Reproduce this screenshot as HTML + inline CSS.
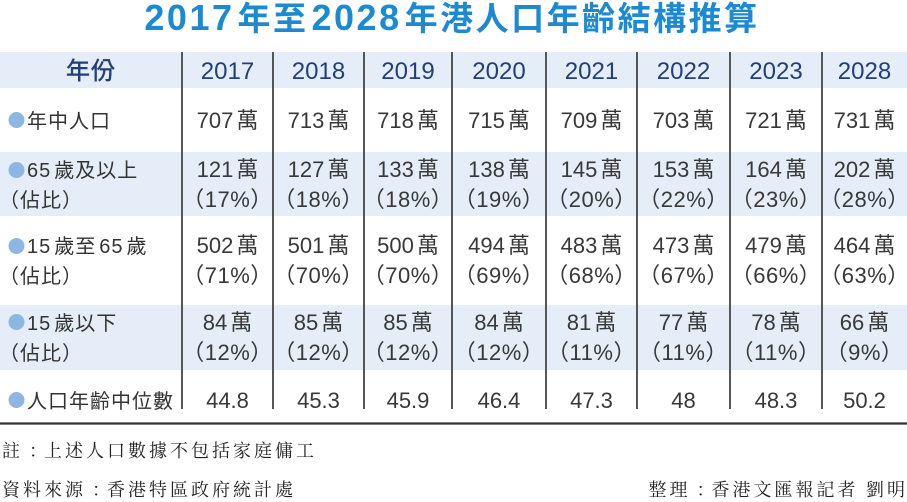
<!DOCTYPE html>
<html>
<head>
<meta charset="utf-8">
<style>
  html,body{margin:0;padding:0;background:#fff;}
  svg{display:block;}
  .sans{font-family:"Liberation Sans","Noto Sans CJK JP",sans-serif;}
  .serif{font-family:"Liberation Serif","Noto Serif CJK SC",serif;}
  .pct{letter-spacing:0.5px;}
</style>
</head>
<body>
<svg width="907" height="502" viewBox="0 0 907 502" xmlns="http://www.w3.org/2000/svg">
  <rect x="0" y="0" width="907" height="502" fill="#ffffff"/>

  <!-- Title -->
  <text class="sans" x="452" y="30" text-anchor="middle" fill="#1c8ad2" font-weight="bold" style="letter-spacing:2.5px"><tspan font-size="36">2017</tspan><tspan font-size="33" dx="3">年至</tspan><tspan font-size="36" dx="3">2028</tspan><tspan font-size="33" dx="3">年港人口年齡結構推算</tspan></text>

  <!-- bands -->
  <rect x="0" y="52" width="907" height="36" fill="#e4edf8"/>
  <rect x="0" y="152" width="907" height="64" fill="#e4edf8"/>
  <rect x="0" y="305" width="907" height="65" fill="#e4edf8"/>

  <!-- vertical lines -->
  <g stroke="#444" stroke-width="1.8">
    <line x1="182" y1="52" x2="182" y2="409"/>
    <line x1="273" y1="52" x2="273" y2="409"/>
    <line x1="364" y1="52" x2="364" y2="409"/>
    <line x1="452" y1="52" x2="452" y2="409"/>
    <line x1="546" y1="52" x2="546" y2="409"/>
    <line x1="637" y1="52" x2="637" y2="409"/>
    <line x1="730" y1="52" x2="730" y2="409"/>
    <line x1="822" y1="52" x2="822" y2="409"/>
  </g>
  <line x1="0" y1="423.5" x2="907" y2="423.5" stroke="#333" stroke-width="2.2"/>

  <!-- header -->
  <g class="sans" fill="#213f7a" font-size="24" text-anchor="middle">
    <text x="91" y="79" stroke="#213f7a" stroke-width="0.5" style="letter-spacing:1px">年份</text>
    <text x="227.5" y="79">2017</text>
    <text x="318.5" y="79">2018</text>
    <text x="408" y="79">2019</text>
    <text x="499" y="79">2020</text>
    <text x="591.5" y="79">2021</text>
    <text x="683.5" y="79">2022</text>
    <text x="776" y="79">2023</text>
    <text x="864.5" y="79">2028</text>
  </g>

  <!-- bullets -->
  <g fill="#8db6e3">
    <circle cx="16.5" cy="120" r="8"/>
    <circle cx="16.5" cy="170" r="8"/>
    <circle cx="16.5" cy="246" r="8"/>
    <circle cx="16.5" cy="322" r="8"/>
    <circle cx="16.5" cy="400" r="8"/>
  </g>

  <!-- row labels -->
  <g class="sans" fill="#333" font-size="20" style="letter-spacing:1px">
    <text x="27" y="128">年中人口</text>
    <text x="27" y="177">65<tspan dx="3">歲及以上</tspan></text>
    <text x="-1" y="207">（佔比）</text>
    <text x="27" y="253">15<tspan dx="3">歲至</tspan><tspan dx="3">65</tspan><tspan dx="3">歲</tspan></text>
    <text x="-1" y="283">（佔比）</text>
    <text x="27" y="330">15<tspan dx="3">歲以下</tspan></text>
    <text x="-1" y="360">（佔比）</text>
    <text x="27" y="408">人口年齡中位數</text>
  </g>

  <!-- data -->
  <g class="sans" fill="#383838" font-size="22" text-anchor="middle">
    <!-- row 1 -->
    <text x="227.5" y="128">707<tspan dx="3">萬</tspan></text>
    <text x="318.5" y="128">713<tspan dx="3">萬</tspan></text>
    <text x="408" y="128">718<tspan dx="3">萬</tspan></text>
    <text x="499" y="128">715<tspan dx="3">萬</tspan></text>
    <text x="591.5" y="128">709<tspan dx="3">萬</tspan></text>
    <text x="683.5" y="128">703<tspan dx="3">萬</tspan></text>
    <text x="776" y="128">721<tspan dx="3">萬</tspan></text>
    <text x="864.5" y="128">731<tspan dx="3">萬</tspan></text>
    <!-- row 2 -->
    <text x="227.5" y="177">121<tspan dx="3">萬</tspan></text>
    <text x="318.5" y="177">127<tspan dx="3">萬</tspan></text>
    <text x="408" y="177">133<tspan dx="3">萬</tspan></text>
    <text x="499" y="177">138<tspan dx="3">萬</tspan></text>
    <text x="591.5" y="177">145<tspan dx="3">萬</tspan></text>
    <text x="683.5" y="177">153<tspan dx="3">萬</tspan></text>
    <text x="776" y="177">164<tspan dx="3">萬</tspan></text>
    <text x="864.5" y="177">202<tspan dx="3">萬</tspan></text>
    <text class="pct" x="227.5" y="207">（17%）</text>
    <text class="pct" x="318.5" y="207">（18%）</text>
    <text class="pct" x="408" y="207">（18%）</text>
    <text class="pct" x="499" y="207">（19%）</text>
    <text class="pct" x="591.5" y="207">（20%）</text>
    <text class="pct" x="683.5" y="207">（22%）</text>
    <text class="pct" x="776" y="207">（23%）</text>
    <text class="pct" x="864.5" y="207">（28%）</text>
    <!-- row 3 -->
    <text x="227.5" y="253">502<tspan dx="3">萬</tspan></text>
    <text x="318.5" y="253">501<tspan dx="3">萬</tspan></text>
    <text x="408" y="253">500<tspan dx="3">萬</tspan></text>
    <text x="499" y="253">494<tspan dx="3">萬</tspan></text>
    <text x="591.5" y="253">483<tspan dx="3">萬</tspan></text>
    <text x="683.5" y="253">473<tspan dx="3">萬</tspan></text>
    <text x="776" y="253">479<tspan dx="3">萬</tspan></text>
    <text x="864.5" y="253">464<tspan dx="3">萬</tspan></text>
    <text class="pct" x="227.5" y="283">（71%）</text>
    <text class="pct" x="318.5" y="283">（70%）</text>
    <text class="pct" x="408" y="283">（70%）</text>
    <text class="pct" x="499" y="283">（69%）</text>
    <text class="pct" x="591.5" y="283">（68%）</text>
    <text class="pct" x="683.5" y="283">（67%）</text>
    <text class="pct" x="776" y="283">（66%）</text>
    <text class="pct" x="864.5" y="283">（63%）</text>
    <!-- row 4 -->
    <text x="227.5" y="330">84<tspan dx="3">萬</tspan></text>
    <text x="318.5" y="330">85<tspan dx="3">萬</tspan></text>
    <text x="408" y="330">85<tspan dx="3">萬</tspan></text>
    <text x="499" y="330">84<tspan dx="3">萬</tspan></text>
    <text x="591.5" y="330">81<tspan dx="3">萬</tspan></text>
    <text x="683.5" y="330">77<tspan dx="3">萬</tspan></text>
    <text x="776" y="330">78<tspan dx="3">萬</tspan></text>
    <text x="864.5" y="330">66<tspan dx="3">萬</tspan></text>
    <text class="pct" x="227.5" y="360">（12%）</text>
    <text class="pct" x="318.5" y="360">（12%）</text>
    <text class="pct" x="408" y="360">（12%）</text>
    <text class="pct" x="499" y="360">（12%）</text>
    <text class="pct" x="591.5" y="360">（11%）</text>
    <text class="pct" x="683.5" y="360">（11%）</text>
    <text class="pct" x="776" y="360">（11%）</text>
    <text class="pct" x="864.5" y="360">（9%）</text>
    <!-- row 5 -->
    <text x="227.5" y="408">44.8</text>
    <text x="318.5" y="408">45.3</text>
    <text x="408" y="408">45.9</text>
    <text x="499" y="408">46.4</text>
    <text x="591.5" y="408">47.3</text>
    <text x="683.5" y="408">48</text>
    <text x="776" y="408">48.3</text>
    <text x="864.5" y="408">50.2</text>
  </g>

  <!-- footer -->
  <g class="serif" fill="#222" font-size="18" style="letter-spacing:3px">
    <text x="2" y="457">註<tspan dx="6">：</tspan><tspan dx="-6">上述人口數據不包括家庭傭工</tspan></text>
    <text x="2" y="496">資料來源<tspan dx="6">：</tspan><tspan dx="-6">香港特區政府統計處</tspan></text>
    <text x="908" y="496" text-anchor="end">整理<tspan dx="6">：</tspan><tspan dx="-6">香港文匯報記者 劉明</tspan></text>
  </g>
</svg>
</body>
</html>
